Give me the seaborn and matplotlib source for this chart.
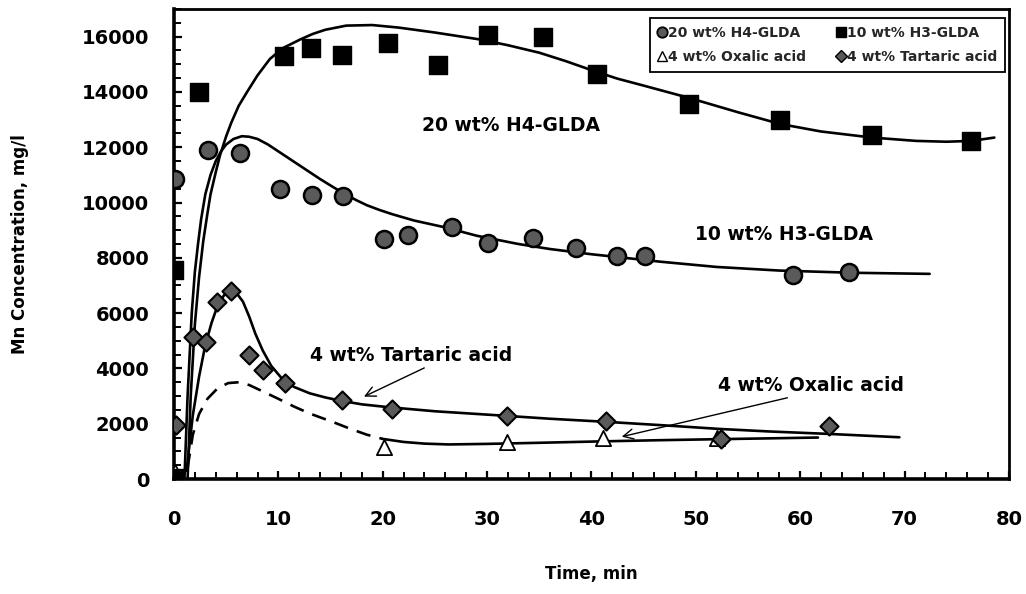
import matplotlib
matplotlib.use("Agg")
import matplotlib.pyplot as plt
from matplotlib.lines import Line2D
from matplotlib.ticker import MultipleLocator
import seaborn as sns
import numpy as np

# ---------------- data ----------------
# 10 wt% H3-GLDA (squares)
sq_x = [0, 0, 2.4, 10.5, 13.1, 16.1, 20.5, 25.3, 30.1, 35.4, 40.5, 49.3, 58.1, 66.9, 76.4]
sq_y = [50, 7550, 14000, 15300, 15580, 15330, 15780, 14980, 16050, 16000, 14650, 13580, 12980, 12450, 12220]
# 20 wt% H4-GLDA (circles)
ci_x = [0.1, 3.3, 6.3, 10.2, 13.2, 16.2, 20.1, 22.4, 26.6, 30.1, 34.4, 38.5, 42.4, 45.1, 59.3, 64.7]
ci_y = [10850, 11900, 11780, 10480, 10280, 10220, 8680, 8830, 9120, 8530, 8700, 8350, 8080, 8080, 7380, 7470]
# 4 wt% Tartaric acid (diamonds)
ta_x = [0.2, 1.8, 3.1, 4.1, 5.5, 7.2, 8.5, 10.6, 16.1, 20.9, 31.9, 41.4, 52.4, 62.8]
ta_y = [1950, 5120, 4970, 6400, 6800, 4500, 3950, 3480, 2870, 2540, 2270, 2110, 1460, 1900]
# 4 wt% Oxalic acid (triangles)
ox_x = [0.1, 20.1, 31.9, 41.1, 52.0]
ox_y = [250, 1140, 1350, 1480, 1480]

# fitted curves
sqc_x = [1.3, 1.6, 2.0, 2.4, 2.8, 3.2, 3.5, 4.0, 4.4, 5.0, 5.5, 6.2, 7.0, 8.0, 9.2, 10.5, 12.1,
         13.3, 14.5, 16.5, 19, 21.5, 25, 29.3, 32, 35, 37.5, 40.3, 42.5, 45, 49.4, 54, 58.1,
         62, 66.9, 71.1, 74, 76.4, 78.6]
sqc_y = [0, 3000, 5600, 7300, 8600, 9600, 10300, 11100, 11700, 12400, 12900, 13500, 14000,
         14600, 15200, 15600, 15900, 16100, 16250, 16400, 16420, 16330, 16150, 15900, 15690,
         15420, 15120, 14750, 14480, 14230, 13780, 13270, 12840, 12570, 12350, 12230, 12200,
         12230, 12350]
cic_x = [1.0, 1.3, 1.7, 2.0, 2.3, 2.6, 3.0, 3.5, 4.0, 4.5, 5.0, 5.7, 6.5, 7.2, 8.0, 9.0, 10,
         11, 12, 13, 14, 15.2, 16.4, 17.5, 18.5, 19.7, 20.9, 23, 26, 29, 33, 36, 40, 46.6, 52,
         58, 65, 72.4]
cic_y = [0, 3000, 6000, 7500, 8500, 9400, 10300, 11000, 11500, 11850, 12100, 12300, 12400,
         12380, 12300, 12100, 11850, 11600, 11350, 11100, 10850, 10570, 10300, 10080, 9900,
         9730, 9580, 9350, 9100, 8800, 8500, 8320, 8130, 7860, 7670, 7540, 7460, 7420]
tac_x = [1.2, 1.8, 2.4, 3.0, 3.6, 4.2, 4.8, 5.5, 6.0, 6.6, 7.2, 7.8, 8.5, 9.3, 10.3, 11.5, 13,
         14.5, 16, 18, 20.5, 25, 31.6, 36, 41.3, 47, 52.3, 57, 62.8, 69.5]
tac_y = [300, 2300, 3700, 4850, 5650, 6300, 6650, 6820, 6720, 6420, 5880, 5250, 4650, 4100,
         3650, 3330, 3100, 2950, 2830, 2700, 2600, 2450, 2290, 2180, 2070, 1940, 1810, 1720,
         1630, 1510]
oxd_x = [1.3, 1.8, 2.4, 3.2, 4.2, 5.2, 6.2, 7.2, 8.5, 10, 11.5, 13, 15.3, 17, 18.5, 20.0]
oxd_y = [400, 1600, 2350, 2900, 3290, 3470, 3500, 3400, 3170, 2900, 2620, 2370, 2050, 1800,
         1600, 1450]
oxs_x = [20.0, 22, 24, 26.3, 30, 35, 40.8, 46, 52, 57, 61.7]
oxs_y = [1450, 1340, 1280, 1250, 1270, 1310, 1360, 1400, 1440, 1470, 1500]

labels = ["20 wt% H4-GLDA", "10 wt% H3-GLDA", "4 wt% Oxalic acid", "4 wt% Tartaric acid"]

# ---------------- figure ----------------
sns.set_theme(style="white")
plt.rcParams["font.family"] = ["DejaVu Sans"]
plt.rcParams["font.weight"] = "bold"

fig = plt.figure(figsize=(10.26, 5.94), dpi=100)
ax = fig.add_axes([0.1696, 0.1936, 0.8138, 0.7912])

lw = 1.9
for cx, cy in [(sqc_x, sqc_y), (cic_x, cic_y), (tac_x, tac_y), (oxs_x, oxs_y)]:
    sns.lineplot(x=cx, y=cy, ax=ax, color="black", lw=lw, sort=False, estimator=None,
                 zorder=2)
ld = sns.lineplot(x=oxd_x, y=oxd_y, ax=ax, color="black", lw=lw, sort=False, estimator=None,
                  zorder=2)
ld.lines[-1].set_dashes([5.5, 3.5])
for ln in ax.lines:
    ln.set_solid_joinstyle("round")
    ln.set_dash_joinstyle("round")

grey = "#5a5a5a"
sns.scatterplot(x=ci_x, y=ci_y, ax=ax, marker="o", s=150, color=grey, edgecolor="black",
                linewidth=1.8, zorder=4)
sns.scatterplot(x=ox_x, y=ox_y, ax=ax, marker="^", s=120, color="white", edgecolor="black",
                linewidth=1.3, zorder=4)
sns.scatterplot(x=ta_x, y=ta_y, ax=ax, marker="D", s=85, color=grey, edgecolor="black",
                linewidth=1.5, zorder=4)
sns.scatterplot(x=sq_x, y=sq_y, ax=ax, marker="s", s=170, color="black", edgecolor="black",
                linewidth=1, zorder=5)

ax.set_xlim(0, 80)
ax.set_ylim(0, 17000)
ax.xaxis.set_major_locator(MultipleLocator(10))
ax.xaxis.set_minor_locator(MultipleLocator(2))
ax.yaxis.set_major_locator(MultipleLocator(2000))
ax.yaxis.set_minor_locator(MultipleLocator(500))
ax.set_yticks(np.arange(0, 16001, 2000))

for s in ax.spines.values():
    s.set_color("black")
    s.set_linewidth(2.0)
ax.spines["left"].set_linewidth(2.6)
ax.spines["bottom"].set_linewidth(2.6)

ax.tick_params(axis="both", which="both", direction="in", color="black",
               top=False, right=False, left=True, bottom=True)
ax.tick_params(axis="both", which="major", length=6, width=1.6, labelsize=14)
ax.tick_params(axis="both", which="minor", length=5, width=1.4)
ax.tick_params(axis="x", which="major", pad=22)
ax.tick_params(axis="y", which="major", pad=18)
for t in ax.get_xticklabels() + ax.get_yticklabels():
    t.set_fontweight("bold")
    t.set_color("black")

ax.set_xlabel("Time, min", fontsize=12, fontweight="bold", color="black", labelpad=26)
ax.set_ylabel("Mn Concentration, mg/l", fontsize=12, fontweight="bold", color="black",
              labelpad=38)

# annotations
tk = dict(fontsize=13.5, fontweight="bold", color="black", ha="center", va="center")
ax.text(32.3, 12800, "20 wt% H4-GLDA", **tk)
ax.text(58.4, 8830, "10 wt% H3-GLDA", **tk)
ax.annotate("4 wt% Tartaric acid", xy=(18.2, 2980), xytext=(22.7, 4480),
            arrowprops=dict(arrowstyle="->", color="black", lw=1.0,
                            shrinkA=0, shrinkB=0, relpos=(0.6, 0.0),
                            mutation_scale=18), **tk)
ax.annotate("4 wt% Oxalic acid", xy=(42.9, 1530), xytext=(61.0, 3400),
            arrowprops=dict(arrowstyle="->", color="black", lw=1.0,
                            shrinkA=0, shrinkB=0, relpos=(0.45, 0.0),
                            mutation_scale=18), **tk)

# legend
handles = [
    Line2D([], [], ls="none", marker="o", ms=7.5, mfc=grey, mec="black", mew=1.3),
    Line2D([], [], ls="none", marker="^", ms=7, mfc="white", mec="black", mew=1.0),
    Line2D([], [], ls="none", marker="s", ms=7.5, mfc="black", mec="black"),
    Line2D([], [], ls="none", marker="D", ms=6, mfc=grey, mec="black", mew=1.0),
]
leg_labels = [labels[0], labels[2], labels[1], labels[3]]
leg = ax.legend(handles, leg_labels, ncol=2, loc="upper right", bbox_to_anchor=(0.9952, 0.981),
                frameon=True, fancybox=False, shadow=False, handlelength=0.6,
                handletextpad=0.15, columnspacing=2.2, borderpad=0.55, labelspacing=0.75,
                prop=dict(size=10, weight="bold"), borderaxespad=0)
leg.get_frame().set_edgecolor("black")
leg.get_frame().set_linewidth(1.3)
leg.get_frame().set_alpha(1)

fig.savefig("out.png", dpi=100, facecolor="white")
